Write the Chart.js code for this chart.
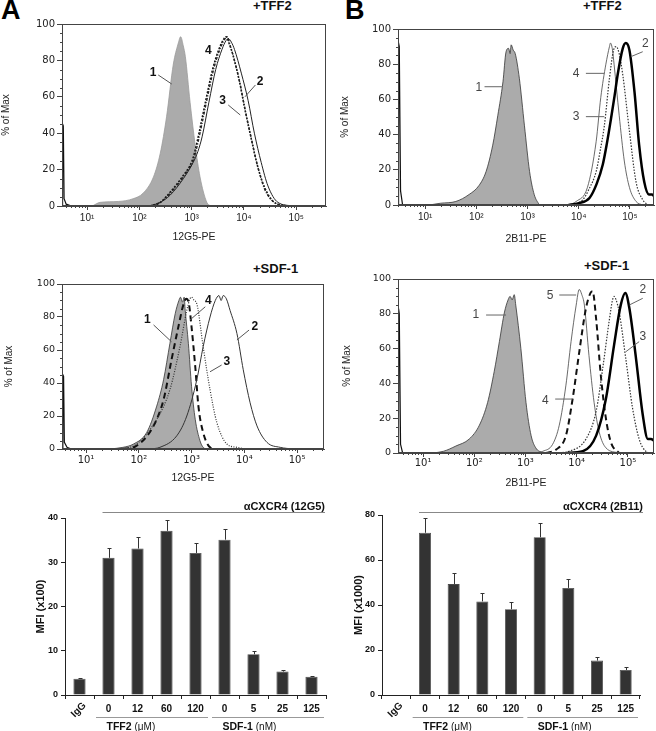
<!DOCTYPE html>
<html>
<head>
<meta charset="utf-8">
<script src="https://cdn.jsdelivr.net/npm/chart.js@4.4.1/dist/chart.umd.min.js"></script>
<style>
  body { margin: 0; background: #fff; width: 656px; height: 731px; position: relative; overflow: hidden; font-family: "Liberation Sans", Arial, sans-serif; }
  canvas { position: absolute; }
  .txt { position: absolute; font-weight: bold; line-height: 1; color: #111; white-space: nowrap; }
  .letter { font-size: 27px; color: #000; }
  .cond { font-size: 13px; }
</style>
</head>
<body>
<div class="txt letter" style="left:1px;top:-3px">A</div>
<div class="txt letter" style="left:345px;top:-3px">B</div>
<div class="txt cond" style="left:253px;top:-1px">+TFF2</div>
<div class="txt cond" style="left:583px;top:-1px">+TFF2</div>
<div class="txt cond" style="left:253px;top:262px">+SDF-1</div>
<div class="txt cond" style="left:584px;top:259px">+SDF-1</div>

<canvas id="a1" width="330" height="233" style="left:0;top:14px"></canvas>
<canvas id="b1" width="322" height="230" style="left:334px;top:19px"></canvas>
<canvas id="a2" width="330" height="214" style="left:0;top:274px"></canvas>
<canvas id="b2" width="322" height="224" style="left:334px;top:269px"></canvas>
<canvas id="a3" width="330" height="236" style="left:0;top:495px"></canvas>
<canvas id="b3" width="322" height="236" style="left:334px;top:495px"></canvas>

<script>
// histogram x values are log10 of the PE fluorescence, y is % of max
const decadeTicks = [1, 2, 3, 4, 5];
const pctTicks = [0, 20, 40, 60, 80, 100];
const sup = { 1: '\u00b9', 2: '\u00b2', 3: '\u00b3', 4: '\u2074', 5: '\u2075' };

// A, +TFF2, 12G5-PE
const a1Iso = [[1.1,0],[1.25,2],[1.6,2.5],[1.88,4],[2.07,7],[2.27,16],[2.4,29],[2.52,49],[2.65,78],[2.74,89],[2.79,93],[2.84,88],[2.88,82],[2.97,57],[3.07,33],[3.16,16],[3.29,2],[3.36,0]];
const a1Edge = [[0.53,0],[0.531,45],[0.545,44],[0.56,4],[0.6,1],[0.7,0]];
const a1Ctrl = [[2.2,0],[2.4,2],[2.59,6],[2.84,15],[3.03,24],[3.12,30],[3.2,38],[3.33,57],[3.46,75],[3.58,86],[3.66,91],[3.7,92],[3.76,90],[3.82,86],[3.95,73],[4.08,58],[4.2,40],[4.33,24],[4.46,11],[4.65,2],[4.95,0]];
const a1Tff60 = [[2.2,0],[2.4,2],[2.59,7],[2.84,16],[3.03,25],[3.09,31],[3.16,40],[3.29,58],[3.42,75],[3.54,86],[3.64,92],[3.68,93],[3.74,88],[3.8,82],[3.92,68],[4.03,52],[4.15,36],[4.27,21],[4.4,9],[4.58,2],[4.85,0]];
const a1Tff120 = [[2.2,0],[2.4,2],[2.57,7],[2.82,16],[3.01,25],[3.07,31],[3.14,40],[3.27,58],[3.4,75],[3.52,86],[3.62,92],[3.66,93],[3.72,89],[3.79,83],[3.91,69],[4.02,53],[4.14,37],[4.26,22],[4.4,10],[4.58,2],[4.85,0]];

// B, +TFF2, 2B11-PE
const b1Iso = [[1.08,0],[1.3,1],[1.6,2],[1.86,6],[2.05,11],[2.19,19],[2.32,34],[2.42,51],[2.52,70],[2.58,87],[2.63,89],[2.66,86],[2.68,91],[2.72,88],[2.76,86],[2.84,72],[2.94,45],[3.04,19],[3.13,6],[3.23,0]];
const b1Edge = [[0.48,0],[0.481,92],[0.495,90],[0.52,8],[0.56,0]];
const b1Ctrl = [[3.8,0],[4.0,1],[4.21,4],[4.35,12],[4.47,23],[4.55,35],[4.63,49],[4.7,62],[4.76,74],[4.86,89],[4.92,92],[4.99,88],[5.09,64],[5.18,34],[5.28,13],[5.37,6],[5.43,6],[5.47,5]];
const b1Tff60 = [[3.9,0],[4.08,3],[4.2,9],[4.34,19],[4.42,31],[4.5,45],[4.6,72],[4.68,88],[4.73,90],[4.79,86],[4.86,74],[4.99,42],[5.12,13],[5.25,3],[5.35,0]];
const b1Tff120 = [[3.8,0],[3.95,2],[4.17,10],[4.34,36],[4.43,61],[4.53,80],[4.6,90],[4.62,92],[4.66,88],[4.69,80],[4.79,51],[4.89,25],[4.99,10],[5.12,2],[5.25,0]];

// A, +SDF-1, 12G5-PE
const a2Iso = [[1.45,0],[1.7,1],[1.9,3],[2.15,10],[2.34,26],[2.47,42],[2.59,64],[2.69,82],[2.76,90],[2.79,92],[2.83,89],[2.86,92],[2.88,84],[2.94,64],[3.0,38],[3.07,18],[3.16,5],[3.22,1],[3.28,0]];
const a2Edge = [[0.56,0],[0.561,45],[0.575,44],[0.59,4],[0.64,1],[0.72,0]];
const a2Ctrl = [[2.2,0],[2.4,1],[2.72,8],[2.91,20],[3.1,42],[3.22,62],[3.35,80],[3.45,90],[3.52,93],[3.56,90],[3.6,93],[3.66,91],[3.73,84],[3.86,70],[3.98,48],[4.11,28],[4.24,14],[4.43,4],[4.68,1],[4.92,0]];
const a2Sdf25 = [[1.7,0],[1.96,3],[2.34,18],[2.59,36],[2.78,62],[2.91,84],[2.97,91],[3.0,92],[3.05,90],[3.1,88],[3.22,62],[3.35,36],[3.48,16],[3.67,3],[3.86,1],[4.0,0]];
const a2Sdf125 = [[1.7,0],[1.96,2],[2.28,14],[2.47,30],[2.62,54],[2.75,74],[2.85,88],[2.9,91],[2.95,88],[3.0,74],[3.07,50],[3.13,26],[3.22,10],[3.35,1],[3.45,0]];

// B, +SDF-1, 2B11-PE
const b2Iso = [[1.19,0],[1.4,1],[1.64,4],[1.9,8],[2.1,16],[2.26,29],[2.39,47],[2.49,64],[2.59,81],[2.66,88],[2.7,90],[2.74,88],[2.78,91],[2.81,85],[2.91,60],[3.01,29],[3.11,10],[3.2,3],[3.34,0]];
const b2Edge = [[0.52,0],[0.521,83],[0.535,80],[0.56,5],[0.6,0]];
const b2Ctrl = [[3.8,0],[4.12,1],[4.38,10],[4.57,31],[4.73,62],[4.86,85],[4.95,92],[5.03,83],[5.16,54],[5.29,22],[5.39,8],[5.45,8],[5.51,7]];
const b2Sdf5 = [[3.6,0],[3.85,1],[4.18,8],[4.38,24],[4.51,49],[4.64,77],[4.7,88],[4.73,90],[4.77,88],[4.83,81],[4.96,54],[5.09,26],[5.22,8],[5.35,1],[5.45,0]];
const b2Sdf25 = [[3.4,0],[3.6,2],[3.79,10],[3.92,31],[4.05,58],[4.18,83],[4.27,92],[4.31,93],[4.38,77],[4.47,45],[4.57,20],[4.67,6],[4.83,0]];
const b2Sdf125 = [[3.2,0],[3.34,1],[3.53,5],[3.66,16],[3.79,39],[3.89,64],[3.99,85],[4.05,94],[4.1,91],[4.15,85],[4.24,56],[4.34,29],[4.44,12],[4.57,3],[4.83,0]];

// bar charts: MFI
const barCats = ['IgG', '0', '12', '60', '120', '0', '5', '25', '125'];
const mfi12G5 = [3.7, 31, 33.1, 37.1, 32.1, 35.1, 9.2, 5.3, 4.1];
const err12G5 = [0.2, 2.3, 2.5, 2.5, 2.3, 2.5, 0.7, 0.3, 0.3];
const mfi2B11 = [0, 72.1, 49.3, 41.6, 38.1, 70.1, 47.6, 15.3, 11.1];
const err2B11 = [0, 6.4, 4.8, 3.6, 3.2, 6.2, 4.1, 1.4, 1.2];
const groups = [{ name: 'TFF2', unit: '(\u03bcM)', from: 1, to: 4 }, { name: 'SDF-1', unit: '(nM)', from: 5, to: 8 }];

const SANS = '"Liberation Sans", Arial, sans-serif';
const WIDE = '"DejaVu Sans", sans-serif';

// frame, minor ticks and curve numbers
const histPlugin = {
  id: 'hist',
  afterDatasetsDraw(chart, args, o) {
    const { ctx, chartArea: a, scales: { x, y } } = chart;
    ctx.save();
    ctx.strokeStyle = '#444';
    ctx.lineWidth = 1;
    ctx.strokeRect(a.left + 0.5, a.top + 0.5, a.right - a.left - 1, a.bottom - a.top - 1);
    ctx.beginPath();
    for (let n = 0; n <= 5; n++) {
      for (let k = 2; k <= 9; k++) {
        const v = n + Math.log10(k);
        if (v < x.min || v > x.max) continue;
        const px = Math.round(x.getPixelForValue(v)) + 0.5;
        ctx.moveTo(px, a.bottom);
        ctx.lineTo(px, a.bottom + 2);
      }
    }
    for (let v = 5; v < 100; v += 5) {
      if (v % 20 === 0) continue;
      const py = Math.round(y.getPixelForValue(v)) + 0.5;
      ctx.moveTo(a.left, py);
      ctx.lineTo(a.left - 2, py);
    }
    ctx.stroke();

    ctx.font = o.font;
    ctx.fillStyle = o.color;
    ctx.strokeStyle = o.lineColor;
    ctx.textAlign = 'center';
    ctx.textBaseline = 'middle';
    o.labels.forEach(l => {
      if (l.line) {
        ctx.beginPath();
        ctx.moveTo(x.getPixelForValue(l.line[0]), y.getPixelForValue(l.line[1]));
        ctx.lineTo(x.getPixelForValue(l.line[2]), y.getPixelForValue(l.line[3]));
        ctx.stroke();
      }
      ctx.fillText(l.text, x.getPixelForValue(l.x), y.getPixelForValue(l.y));
    });
    ctx.restore();
  }
};

const iso = (data, edge) => ({ data, borderColor: edge, borderWidth: 0.8, backgroundColor: '#ababab', fill: 'origin', order: 2 });
const curve = (data, color, width, dash) => ({ data, borderColor: color, borderWidth: width, borderDash: dash || [], fill: false, order: 1 });
const spike = data => ({ data, borderColor: '#111', borderWidth: 1.2, fill: false, order: 1, cubicInterpolationMode: 'default', tension: 0 });

function makeHist(id, c) {
  return new Chart(document.getElementById(id), {
    type: 'line',
    data: { datasets: c.datasets },
    options: {
      responsive: false,
      animation: false,
      devicePixelRatio: 1,
      layout: { padding: c.pad },
      elements: { point: { radius: 0 }, line: { cubicInterpolationMode: 'monotone' } },
      plugins: {
        legend: { display: false },
        tooltip: { enabled: false },
        hist: { labels: c.labels, font: c.labelFont, color: c.labelColor, lineColor: c.lineColor }
      },
      scales: {
        x: {
          type: 'linear',
          min: c.xMin,
          max: c.xMax,
          afterBuildTicks: s => { s.ticks = decadeTicks.map(v => ({ value: v })); },
          afterFit: s => { s.height = c.xH; },
          grid: { drawOnChartArea: false, tickLength: 4, color: '#444' },
          border: { color: '#444' },
          ticks: { callback: v => '10' + sup[v], font: c.tickFont, color: '#222', padding: c.xPad, maxRotation: 0, autoSkip: false },
          title: { display: true, text: c.xTitle, font: { family: SANS, size: 10.5 }, color: '#222', padding: { top: 0, bottom: 4 } }
        },
        y: {
          min: 0,
          max: 100,
          afterBuildTicks: s => { s.ticks = pctTicks.map(v => ({ value: v })); },
          afterFit: s => { s.width = c.yW; },
          grid: { drawOnChartArea: false, tickLength: 5, color: '#444' },
          border: { color: '#444' },
          ticks: { font: c.yTickFont, color: '#222', padding: 2 },
          title: { display: true, text: '% of Max', font: { family: SANS, size: 10 }, color: '#222', padding: { top: c.yTitlePad, bottom: 0 } }
        }
      }
    },
    plugins: [histPlugin]
  });
}

makeHist('a1', {
  datasets: [
    curve(a1Ctrl, '#222', 1),
    curve(a1Tff60, '#222', 1.3, [3, 1.5, 1, 1.5]),
    curve(a1Tff120, '#111', 1.5, [2, 1.5]),
    spike(a1Edge),
    iso(a1Iso, '#9a9a9a')
  ],
  pad: { top: 10, right: 4, left: 0, bottom: 0 },
  xMin: 0.52, xMax: 5.57, xH: 41, yW: 62, xPad: 2, yTitlePad: 0,
  xTitle: '12G5-PE',
  tickFont: { family: SANS, size: 10 }, yTickFont: { family: WIDE, size: 10 },
  labelFont: 'bold 12px ' + SANS, labelColor: '#111', lineColor: '#555',
  labels: [
    { text: '1', x: 2.26, y: 73.5, line: [2.36, 72, 2.62, 67] },
    { text: '2', x: 4.31, y: 68.3, line: [4.22, 66.5, 4.02, 60] },
    { text: '3', x: 3.59, y: 57.7, line: [3.7, 55.5, 3.93, 50] },
    { text: '4', x: 3.32, y: 85.3 }
  ]
});

makeHist('b1', {
  datasets: [
    curve(b1Ctrl, '#000', 2.5),
    curve(b1Tff60, '#333', 1.2, [1.5, 1.5]),
    curve(b1Tff120, '#444', 0.8),
    spike(b1Edge),
    iso(b1Iso, '#333')
  ],
  pad: { top: 10, right: 2, left: 0, bottom: 0 },
  xMin: 0.47, xMax: 5.47, xH: 44, yW: 64, xPad: 2, yTitlePad: 5,
  xTitle: '2B11-PE',
  tickFont: { family: SANS, size: 10 }, yTickFont: { family: WIDE, size: 10 },
  labelFont: '12px ' + SANS, labelColor: '#444', lineColor: '#666',
  labels: [
    { text: '2', x: 5.3, y: 91.9, line: [5.25, 87.1, 5.02, 84.3] },
    { text: '4', x: 3.95, y: 74.8, line: [4.14, 74.8, 4.5, 74.8] },
    { text: '3', x: 3.95, y: 50.2, line: [4.14, 50.2, 4.5, 50.2] },
    { text: '1', x: 2.05, y: 66.9, line: [2.16, 67.2, 2.5, 67.2] }
  ]
});

makeHist('a2', {
  datasets: [
    curve(a2Ctrl, '#333', 1),
    curve(a2Sdf25, '#333', 1.2, [1, 1.5]),
    curve(a2Sdf125, '#111', 2, [6, 4]),
    spike(a2Edge),
    iso(a2Iso, '#333')
  ],
  pad: { top: 10, right: 6, left: 0, bottom: 0 },
  xMin: 0.545, xMax: 5.51, xH: 39, yW: 62, xPad: 1, yTitlePad: 3,
  xTitle: '12G5-PE',
  tickFont: { family: WIDE, size: 10 }, yTickFont: { family: WIDE, size: 9.5 },
  labelFont: 'bold 12px ' + SANS, labelColor: '#111', lineColor: '#555',
  labels: [
    { text: '1', x: 2.16, y: 78.6, line: [2.28, 75.2, 2.62, 65] },
    { text: '4', x: 3.32, y: 89.9, line: [3.26, 86.2, 2.97, 78.2] },
    { text: '2', x: 4.2, y: 74.1, line: [4.09, 72.1, 3.86, 66.1] },
    { text: '3', x: 3.67, y: 52.9, line: [3.57, 50.9, 3.35, 46.8] }
  ]
});

makeHist('b2', {
  datasets: [
    curve(b2Ctrl, '#000', 2.5),
    curve(b2Sdf5, '#333', 1.2, [1.5, 1.5]),
    curve(b2Sdf25, '#111', 2, [6, 4]),
    curve(b2Sdf125, '#444', 0.8),
    spike(b2Edge),
    iso(b2Iso, '#333')
  ],
  pad: { top: 10, right: 2, left: 0, bottom: 0 },
  xMin: 0.51, xMax: 5.51, xH: 40, yW: 64, xPad: 0, yTitlePad: 7,
  xTitle: '2B11-PE',
  tickFont: { family: WIDE, size: 10 }, yTickFont: { family: WIDE, size: 9.5 },
  labelFont: '12px ' + SANS, labelColor: '#444', lineColor: '#666',
  labels: [
    { text: '5', x: 3.48, y: 90.4, line: [3.66, 90.8, 3.99, 90.8] },
    { text: '1', x: 2.03, y: 79.3, line: [2.23, 79.3, 2.62, 79.3] },
    { text: '2', x: 5.29, y: 93.7, line: [5.29, 88.9, 5.03, 85.1] },
    { text: '3', x: 5.29, y: 66.8, line: [5.22, 64, 4.96, 58.2] },
    { text: '4', x: 3.39, y: 29.9, line: [3.58, 31, 3.92, 31] }
  ]
});

// error bars, IgG label, group brackets and antibody label
const barPlugin = {
  id: 'barDeco',
  afterDatasetsDraw(chart, args, o) {
    const { ctx, chartArea: a, scales: { x, y } } = chart;
    const meta = chart.getDatasetMeta(0);
    const vals = chart.data.datasets[0].data;
    const cw = x.getPixelForValue(1) - x.getPixelForValue(0);
    ctx.save();
    ctx.strokeStyle = '#333';
    ctx.lineWidth = 1;
    o.errors.forEach((e, i) => {
      if (!e) return;
      const bar = meta.data[i];
      const px = Math.round(bar.x) + 0.5;
      const top = Math.round(y.getPixelForValue(vals[i] + e)) + 0.5;
      ctx.beginPath();
      ctx.moveTo(px, bar.y);
      ctx.lineTo(px, top);
      ctx.moveTo(px - 2, top);
      ctx.lineTo(px + 2, top);
      ctx.stroke();
    });

    // rotated IgG
    ctx.fillStyle = '#111';
    ctx.font = 'bold 10px ' + SANS;
    ctx.save();
    ctx.translate(x.getPixelForValue(0) + 5, a.bottom + 9);
    ctx.rotate(-Math.PI / 4);
    ctx.textAlign = 'right';
    ctx.textBaseline = 'middle';
    ctx.fillText(barCats[0], 0, 0);
    ctx.restore();

    // treatment groups under the axis
    ctx.strokeStyle = '#999';
    groups.forEach(g => {
      const x0 = x.getPixelForValue(g.from) - cw / 2 + 2;
      const x1 = x.getPixelForValue(g.to) + cw / 2 - 2;
      const ly = a.bottom + 22.5;
      ctx.beginPath();
      ctx.moveTo(x0, ly);
      ctx.lineTo(x1, ly);
      ctx.stroke();
      const tx = x.getPixelForValue(g.from) - 2;
      ctx.textAlign = 'left';
      ctx.textBaseline = 'middle';
      ctx.font = 'bold 10.5px ' + SANS;
      ctx.fillText(g.name + ' ', tx, a.bottom + 32);
      const w = ctx.measureText(g.name + ' ').width;
      ctx.font = '10px ' + SANS;
      ctx.fillText(g.unit, tx + w, a.bottom + 32.5);
    });

    // antibody bracket over the bars
    const by = Math.round(a.top - o.gap) + 0.5;
    const bx0 = x.getPixelForValue(1) - 6;
    const bx1 = a.right + o.extra;
    ctx.strokeStyle = '#888';
    ctx.beginPath();
    ctx.moveTo(bx0, by);
    ctx.lineTo(bx1, by);
    ctx.stroke();
    ctx.font = 'bold 11px ' + SANS;
    ctx.textAlign = 'right';
    ctx.textBaseline = 'alphabetic';
    ctx.fillText(o.antibody, bx1, by - 2.5);
    ctx.restore();
  }
};

function makeBars(id, c) {
  return new Chart(document.getElementById(id), {
    type: 'bar',
    data: {
      labels: barCats,
      datasets: [{ data: c.values, backgroundColor: '#333', borderColor: '#4a4a4a', borderWidth: 0.8, barPercentage: 0.42, categoryPercentage: 1 }]
    },
    options: {
      responsive: false,
      animation: false,
      devicePixelRatio: 1,
      layout: { padding: c.pad },
      plugins: {
        legend: { display: false },
        tooltip: { enabled: false },
        barDeco: { errors: c.errors, antibody: c.antibody, gap: c.gap, extra: c.extra }
      },
      scales: {
        x: {
          afterFit: s => { s.height = 36; },
          grid: { drawOnChartArea: false, tickLength: 4, color: '#222' },
          border: { color: '#222' },
          ticks: { callback: (v, i) => (i === 0 ? '' : barCats[i]), font: { family: SANS, size: 10, weight: 'bold' }, color: '#111', padding: 4, maxRotation: 0, autoSkip: false }
        },
        y: {
          min: 0,
          max: c.max,
          ticks: { stepSize: c.step, font: { family: SANS, size: 9, weight: 'bold' }, color: '#111', padding: 3 },
          afterFit: s => { s.width = c.yW; },
          grid: { drawOnChartArea: false, tickLength: 4, color: '#222' },
          border: { color: '#222' },
          title: { display: true, text: c.yTitle, font: { family: SANS, size: 11, weight: 'bold' }, color: '#111', padding: { top: 4, bottom: 0 } }
        }
      }
    },
    plugins: [barPlugin]
  });
}

makeBars('a3', {
  values: mfi12G5, errors: err12G5, max: 40, step: 10,
  yTitle: 'MFI (x100)', antibody: '\u03b1CXCR4 (12G5)',
  pad: { top: 23, right: 4, left: 30, bottom: 0 }, yW: 35, gap: 6, extra: -1
});

makeBars('b3', {
  values: mfi2B11, errors: err2B11, max: 80, step: 20,
  yTitle: 'MFI (x1000)', antibody: '\u03b1CXCR4 (2B11)',
  pad: { top: 20, right: 16, left: 14, bottom: 0 }, yW: 34, gap: 3, extra: 3
});
</script>
</body>
</html>
